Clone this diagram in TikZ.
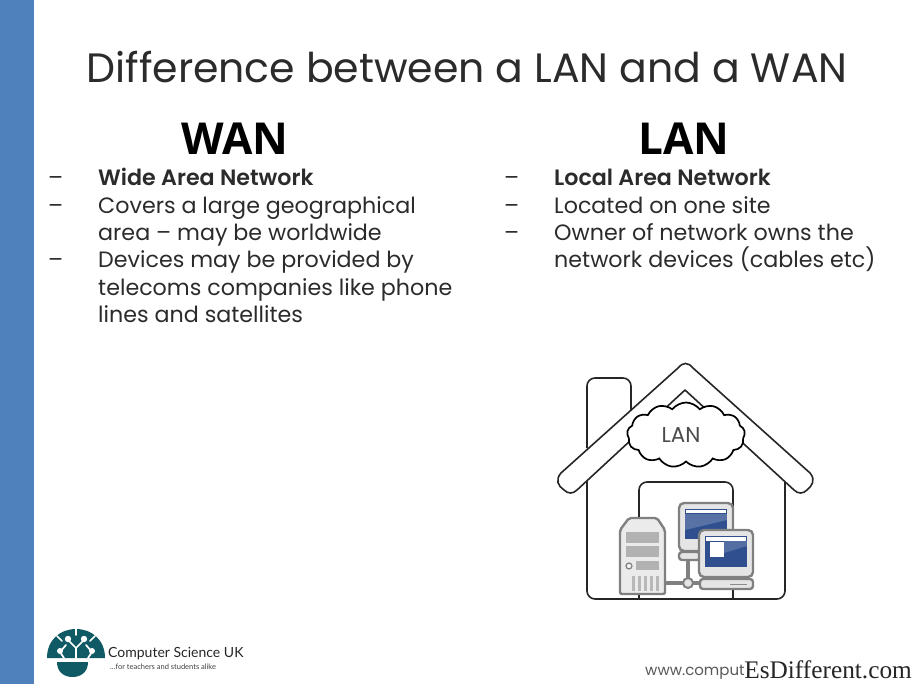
\documentclass[tikz,border=0pt]{standalone}
\usepackage{fontspec}
\setmainfont{Poppins}[BoldFont={Poppins SemiBold}]
\newfontfamily\headfont{Open Sans}
\newfontfamily\logofont{Lato}
\newfontfamily\wmfont{Liberation Serif}
\usetikzlibrary{shapes.symbols}
\definecolor{barblue}{HTML}{4F81BD}
\definecolor{ink}{HTML}{2B2B2B}
\definecolor{teal1}{HTML}{0F5A64}
\definecolor{screenblue}{HTML}{2F4F8F}
\tikzset{
  line/.style={anchor=base west,inner sep=0pt,font=\fontsize{22.2}{22}\selectfont,text=ink},
  boldline/.style={line,font=\fontsize{22.2}{22}\selectfont\bfseries},
  heading/.style={anchor=base,inner sep=0pt,font=\headfont\fontsize{44}{44}\selectfont\bfseries,text=black},
  house/.style={draw=black!85,line width=1.6pt,line join=round,fill=white},
  hwire/.style={draw=black!85,line width=1.6pt},
  gear/.style={draw=black!50,line width=2.4pt,fill=black!10,rounded corners=3pt},
  slot/.style={fill=black!30,draw=none},
  pipe/.style={draw=black!50,line width=4.5pt},
}
\begin{document}
\begin{tikzpicture}[x=1pt,y=-1pt]
\useasboundingbox (0,0) rectangle (912,684);
\fill[white] (0,0) rectangle (912,684);
\fill[barblue] (0,0) rectangle (34,684);
% title
\node[anchor=base,inner sep=0pt,font=\fontsize{41}{41}\selectfont,text=ink] (title) at (467,83) {Difference between a LAN and a WAN};
\node[heading] (wan) at (235,155) {WAN};
\node[heading] (lan) at (684,155) {LAN};
% left list
\node[line] (d1) at (48,186) {--};
\node[boldline] (l1) at (98,186) {Wide Area Network};
\node[line] (d2) at (48,214) {--};
\node[line] (l2) at (98,214) {Covers a large geographical};
\node[line] (l3) at (98,241) {area -- may be worldwide};
\node[line] (d3) at (48,268) {--};
\node[line] (l4) at (98,268) {Devices may be provided by};
\node[line] (l5) at (98,295) {telecoms companies like phone};
\node[line] (l6) at (98,323) {lines and satellites};
% right list
\node[line] (e1) at (504,186) {--};
\node[boldline] (r1) at (554,186) {Local Area Network};
\node[line] (e2) at (504,214) {--};
\node[line] (r2) at (554,214) {Located on one site};
\node[line] (e3) at (504,241) {--};
\node[line] (r3) at (554,241) {Owner of network owns the};
\node[line] (r4) at (554,268) {network devices (cables etc)};
% house
\draw[house,rounded corners=8pt] (587,448) -- (587,378) -- (631,378) -- (631,415);
\draw[house,fill=none,rounded corners=8pt] (587,470) -- (587,599) -- (785,599) -- (785,470);
\draw[hwire,rounded corners=8pt] (639,599) -- (639,482) -- (733,482) -- (733,599);
% roof
\draw[house] (561,473) -- (678,368) .. controls (683,362) and (688,362) .. (693,368) -- (810,473)
  .. controls (816,480) and (812,486) .. (807,490) .. controls (803,494) and (798,494) .. (794,490)
  -- (685,390) -- (577,490) .. controls (573,494) and (568,494) .. (564,490) .. controls (558,486) and (555,480) .. (561,473) -- cycle;
% cloud
\node[cloud,draw=black,line width=1.7pt,fill=white,cloud puffs=13,cloud puff arc=105,minimum width=118pt,minimum height=65pt,aspect=1.85,inner sep=0pt] (cloudlan) at (686,435) {};
\node[inner sep=0pt,font=\fontsize{21.5}{21}\selectfont,text=black!70] (lanlabel) at (681,435) {LAN};
% network
\draw[pipe] (666,583) -- (700,583);
\draw[pipe] (688,556) -- (688,583);
\node[circle,draw=black!50,line width=2pt,fill=black!10,minimum size=10pt,inner sep=0pt] (hub) at (688,583) {};
% back monitor
\draw[gear] (679,552) rectangle (700,560);
\draw[gear,rounded corners=5pt] (679,503) rectangle (733,551);
\fill[screenblue] (685,509) rectangle (727,539);
\fill[white] (686,510) rectangle (726,513);
\fill[white,opacity=.2] (685,514) -- (727,514) -- (727,520) -- (685,530) -- cycle;
% front monitor
\draw[gear,rounded corners=5pt] (699,530) rectangle (753,577);
\fill[screenblue] (705,536) rectangle (747,567);
\fill[white] (706,537) rectangle (746,541);
\fill[white] (710,542) rectangle (724,557);
\fill[white,opacity=.18] (724,541) -- (747,541) -- (747,546) -- (724,553) -- cycle;
\draw[gear] (700,579) rectangle (753,589);
\fill[black!45] (730,584) rectangle (747,585);
% server
\draw[draw=black!50,line width=2.4pt,fill=black!8,rounded corners=2pt] (620,530) -- (629,518) -- (657,518) -- (665,530) -- (665,594) -- (620,594) -- cycle;
\fill[slot] (626,532) rectangle (659,543);
\fill[slot] (626,546) rectangle (659,557);
\fill[slot] (636,561) rectangle (659,570);
\draw[black!50,line width=1.2pt,fill=black!5] (629,566) circle[radius=3];
\foreach \sx in {632,638,644,650,656}{\fill[black!28] (\sx,576) rectangle +(3,15);}
% logo: dome and bowl
\fill[teal1] (47,658) .. controls (47,640) and (60,629) .. (76,629) .. controls (92,629) and (105,640) .. (105,658) -- cycle;
\fill[teal1] (57,662) -- (88,662) .. controls (88,672) and (81,677) .. (72.5,677) .. controls (64,677) and (57,672) .. (57,662) -- cycle;
\begin{scope}[white,line width=1.7pt,line cap=round]
\draw (76,658) -- (76,648) -- (68,640);
\draw (76,648) -- (84,640);
\draw (64,658) -- (60,652) -- (66,645);
\draw (88,658) -- (92,652) -- (86,645);
\draw (76,629) -- (76,635);
\draw (57,636) -- (62,641);
\draw (95,636) -- (90,641);
\end{scope}
\fill[white] (68,639) circle[radius=3.2] (84,639) circle[radius=3.2] (60,651) circle[radius=3] (92,651) circle[radius=3];
\node[anchor=base west,inner sep=0pt,font=\logofont\fontsize{14}{14}\selectfont,text=black!85] (brand) at (108,657) {Computer Science UK};
\node[anchor=base west,inner sep=0pt,font=\logofont\fontsize{7.5}{7}\selectfont,text=black!75] (tag) at (110,669) {...for teachers and students alike};
% footer
\node[anchor=base west,inner sep=0pt,font=\fontsize{15}{15}\selectfont,text=black!65] (url) at (645,675) {www.comput};
\node[anchor=base east,inner sep=0pt,font=\wmfont\fontsize{25.3}{25}\selectfont,text=black!85] (wm) at (912,678) {EsDifferent.com};
\end{tikzpicture}
\end{document}
